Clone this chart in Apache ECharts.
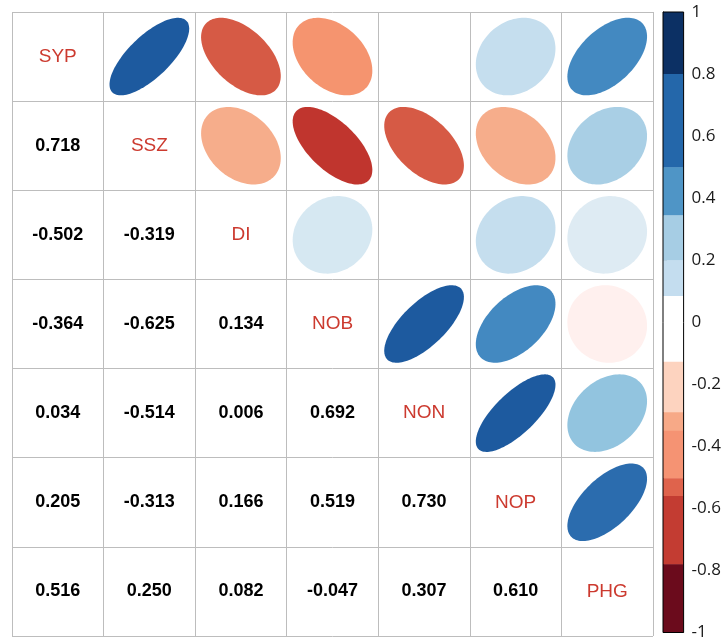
<!DOCTYPE html>
<html>
<head>
<meta charset="utf-8">
<script src="https://cdn.jsdelivr.net/npm/echarts@6/dist/echarts.min.js"></script>
<style>html,body{margin:0;padding:0;background:#fff;}#c{width:724px;height:641px;}</style>
</head>
<body>
<div id="c"></div>
<script>
// ---------- data ----------
const names = ['SYP', 'SSZ', 'DI', 'NOB', 'NON', 'NOP', 'PHG'];
// lower triangle of correlation matrix (row i, columns 0..i-1)
const rSSZ = [0.718];
const rDI  = [-0.502, -0.319];
const rNOB = [-0.364, -0.625, 0.134];
const rNON = [0.034, -0.514, 0.006, 0.692];
const rNOP = [0.205, -0.313, 0.166, 0.519, 0.730];
const rPHG = [0.516, 0.250, 0.082, -0.047, 0.307, 0.610];
const lowerRows = [[], rSSZ, rDI, rNOB, rNON, rNOP, rPHG];

// colour bar bands (edges from top to bottom) and tick labels
const bandEdges = [1, 0.8, 0.5, 0.345, 0.2, 0.085, -0.127, -0.29, -0.35, -0.503, -0.56, -0.78, -1];
const barTicks = [1, 0.8, 0.6, 0.4, 0.2, 0, -0.2, -0.4, -0.6, -0.8, -1];

// ---------- styles ----------
const bandColors = ['#0c3064', '#2467aa', '#4f95c6', '#a6cde4', '#c4ddef', '#ffffff',
                    '#fdd3bf', '#f7a987', '#f59373', '#df634c', '#c33c32', '#6b0b1c'];
const ellipseCuts = [0.65, 0.55, 0.45, 0.28, 0.22, 0.15, 0.10, 0.05, -0.03, -0.10, -0.33, -0.45, -0.55, -2];
const ellipsePalette = ['#1d5a9f', '#2b6cae', '#4389c1', '#92c4df', '#a9cfe5', '#c5deee', '#d6e8f2',
                        '#deebf3', '#ffffff', '#fff0ee', '#f6ad8b', '#f5946f', '#d65a45', '#c0352e'];
function ellipseColor(v) {
  for (let k = 0; k < ellipseCuts.length; k++) if (v >= ellipseCuts[k]) return ellipsePalette[k];
  return ellipsePalette[ellipsePalette.length - 1];
}

// full matrix
const n = names.length;
function corr(i, j) { return i > j ? lowerRows[i][j] : lowerRows[j][i]; }

const ellipseData = [], numberData = [], diagData = [];
for (let i = 0; i < n; i++) {
  for (let j = 0; j < n; j++) {
    if (i === j) diagData.push([j, i, names[i]]);
    else if (i > j) numberData.push([j, i, corr(i, j)]);
    else ellipseData.push([j, i, corr(i, j)]);
  }
}
const bandData = bandColors.map((c, k) => [bandEdges[k], bandEdges[k + 1], k]);

const chart = echarts.init(document.getElementById('c'), null, {renderer: 'canvas'});
const gridLine = '#bdbdbd';

const option = {
  animation: false,
  backgroundColor: '#fff',
  grid: [
    {left: 12, top: 12, width: 641, height: 624},
    {left: 663, top: 12, width: 23, height: 623}
  ],
  xAxis: [
    {gridIndex: 0, type: 'value', min: 0, max: 7, interval: 1,
     axisLine: {show: false}, axisTick: {show: false}, axisLabel: {show: false},
     splitLine: {show: true, lineStyle: {color: gridLine, width: 1}}},
    {gridIndex: 1, type: 'value', min: 0, max: 1, show: false}
  ],
  yAxis: [
    {gridIndex: 0, type: 'value', min: 0, max: 7, interval: 1, inverse: true,
     axisLine: {show: false}, axisTick: {show: false}, axisLabel: {show: false},
     splitLine: {show: true, lineStyle: {color: gridLine, width: 1}}},
    {gridIndex: 1, type: 'value', min: -1, max: 1, interval: 0.2, position: 'right',
     axisLine: {show: true, lineStyle: {color: '#000', width: 1}},
     axisTick: {show: true, length: 4, lineStyle: {color: '#000'}},
     axisLabel: {show: true, margin: 8, color: '#1a1a1a', fontSize: 17, fontFamily: 'Open Sans',
                 formatter: v => (barTicks.some(t => Math.abs(t - v) < 1e-9) ? String(Math.round(v * 10) / 10) : '')},
     splitLine: {show: false}}
  ],
  series: [
    {
      type: 'custom', xAxisIndex: 0, yAxisIndex: 0, data: ellipseData, z: 3,
      renderItem: function (params, api) {
        const col = api.value(0), row = api.value(1), r = api.value(2);
        const c = api.coord([col + 0.5, row + 0.5]);
        const sz = api.size([1, 1]);
        const sx = 0.435 * sz[0], sy = 0.435 * sz[1];
        const d = Math.acos(r);
        const pts = [];
        for (let k = 0; k < 120; k++) {
          const t = 2 * Math.PI * k / 120;
          pts.push([c[0] + Math.cos(t + d / 2) * sx, c[1] - Math.cos(t - d / 2) * sy]);
        }
        return {type: 'polygon', shape: {points: pts}, style: {fill: ellipseColor(r), stroke: null}};
      }
    },
    {
      type: 'custom', xAxisIndex: 0, yAxisIndex: 0, data: numberData, z: 4,
      renderItem: function (params, api) {
        const c = api.coord([api.value(0) + 0.5, api.value(1) + 0.5]);
        return {type: 'text', style: {x: c[0], y: c[1], text: api.value(2).toFixed(3),
          fill: '#000', font: 'bold 18px "Liberation Sans", Arial, sans-serif', align: 'center', verticalAlign: 'middle'}};
      }
    },
    {
      type: 'custom', xAxisIndex: 0, yAxisIndex: 0, data: diagData, z: 4,
      dimensions: ['x', 'y', {name: 'label', type: 'ordinal'}],
      renderItem: function (params, api) {
        const item = diagData[params.dataIndex];
        const c = api.coord([item[0] + 0.5, item[1] + 0.5]);
        return {type: 'text', style: {x: c[0], y: c[1], text: item[2],
          fill: '#cc3a2f', font: '19px "Liberation Sans", Arial, sans-serif', align: 'center', verticalAlign: 'middle'}};
      }
    },
    {
      type: 'custom', xAxisIndex: 1, yAxisIndex: 1, data: bandData, z: 3,
      renderItem: function (params, api) {
        const p1 = api.coord([0, api.value(0)]);
        const p2 = api.coord([1, api.value(1)]);
        return {type: 'rect', shape: {x: p1[0], y: p1[1], width: p2[0] - p1[0], height: p2[1] - p1[1] + 0.5},
          style: {fill: bandColors[api.value(2)]}};
      }
    },
    {
      type: 'custom', xAxisIndex: 1, yAxisIndex: 1, data: [[0, 1]], z: 5,
      renderItem: function (params, api) {
        const p1 = api.coord([0, 1]);
        const p2 = api.coord([1, -1]);
        return {type: 'rect', shape: {x: p1[0], y: p1[1], width: p2[0] - p1[0], height: p2[1] - p1[1]},
          style: {fill: null, stroke: '#000', lineWidth: 1}};
      }
    }
  ]
};
chart.setOption(option);
</script>
</body>
</html>
